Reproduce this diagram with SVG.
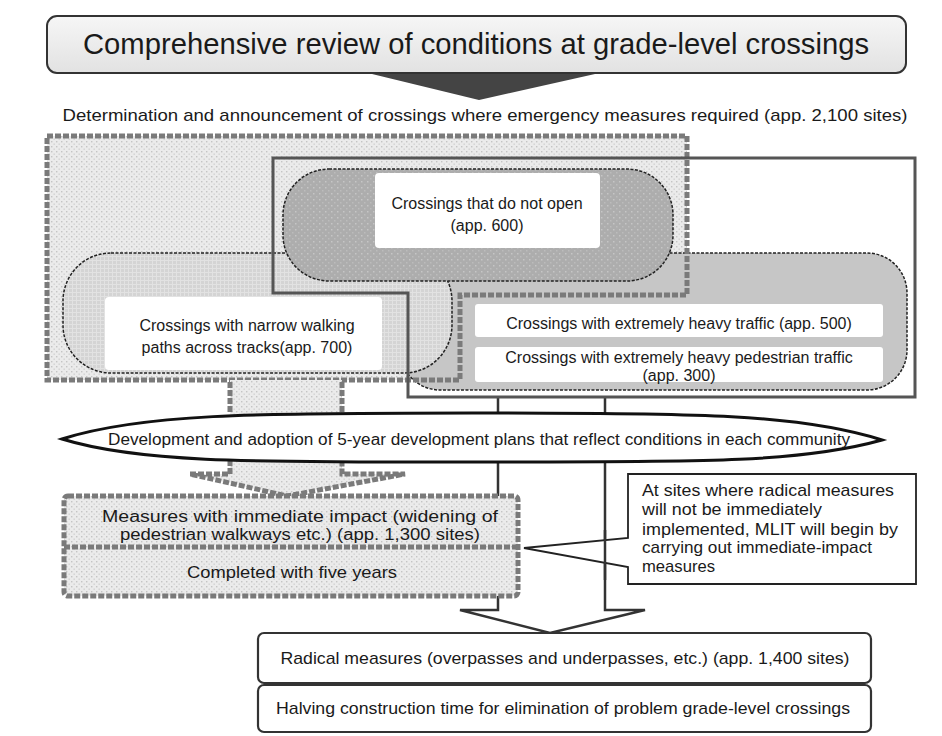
<svg xmlns="http://www.w3.org/2000/svg" width="942" height="736" viewBox="0 0 942 736">
<style>
text{font-family:"Liberation Sans",Arial,sans-serif;fill:#1a1a1a}
.c{text-anchor:middle}
.t16{font-size:16px}
.t17{font-size:17px}
.dash{fill:none;stroke:#7a7a7a;stroke-width:5;stroke-dasharray:6 2}
.pill{stroke:#222;stroke-width:1.5;stroke-dasharray:3 1.5}
.wbox{fill:#fff;stroke:none}
.solid{fill:none;stroke:#555;stroke-width:3}
.ln{fill:none;stroke:#333;stroke-width:2.5}
</style>
<defs>
<pattern id="stip" width="5" height="5" patternUnits="userSpaceOnUse">
<rect width="5" height="5" fill="#ebebeb"/><rect x="1" y="1" width="1.4" height="1.4" fill="#c4c4c4"/><rect x="3.5" y="3.5" width="1.4" height="1.4" fill="#d2d2d2"/>
</pattern>
<pattern id="dark" width="6" height="6" patternUnits="userSpaceOnUse">
<rect width="6" height="6" fill="#adadad"/><rect x="1" y="1" width="1.5" height="1.5" fill="#c6c6c6"/><rect x="4" y="4" width="1.5" height="1.5" fill="#bcbcbc"/>
</pattern>
<pattern id="grid" width="4" height="4" patternUnits="userSpaceOnUse">
<rect width="4" height="4" fill="#d4d4d4"/><rect width="4" height="1" fill="#e2e2e2"/><rect width="1" height="4" fill="#e2e2e2"/>
</pattern>
<linearGradient id="tg" x1="0" y1="0" x2="0" y2="1">
<stop offset="0" stop-color="#f6f6f6"/><stop offset="1" stop-color="#e2e2e2"/>
</linearGradient>
</defs>
<rect width="942" height="736" fill="#fff"/>

<g id="title">
<rect x="47" y="16" width="859" height="57" rx="10" fill="url(#tg)" stroke="#333" stroke-width="2"/>
<text class="c" x="476" y="54" font-size="30" textLength="786" lengthAdjust="spacingAndGlyphs">Comprehensive review of conditions at grade-level crossings</text>
</g>

<g id="connectors">
<polygon points="372,74 595,74 479,100" fill="#444"/>
<path class="ln" d="M498,397 V610 H460 L550,633 L645,610 H605 V397"/>
</g>

<g id="determination">
<text class="c t17" x="485" y="121" textLength="845" lengthAdjust="spacingAndGlyphs">Determination and announcement of crossings where emergency measures required (app. 2,100 sites)</text>
</g>

<g id="emergency-region">
<path d="M47,136 H687 V295 H460 V380 H47 Z" fill="url(#stip)"/>
</g>

<g id="heavy-traffic">
<rect x="400" y="253" width="507" height="137" rx="40" fill="#c6c6c6" class="pill"/>
</g>
<g id="narrow-paths">
<rect x="63" y="253" width="389" height="120" rx="48" fill="url(#grid)" class="pill"/>
</g>
<g id="no-open">
<rect x="283" y="169" width="390" height="112" rx="46" fill="url(#dark)" class="pill"/>
</g>

<g id="region-outlines">
<path class="dash" d="M47,136 H687 V295 H460 V380 H47 Z"/>
<path class="solid" d="M273,158 H915 V397 H408 V293 H273 Z"/>
</g>

<g id="no-open-label">
<rect class="wbox" x="375" y="173" width="225" height="75" rx="4"/>
<text class="c t16" x="487" y="209">Crossings that do not open</text>
<text class="c t16" x="487" y="231">(app. 600)</text>
</g>
<g id="narrow-label">
<rect class="wbox" x="105" y="297" width="277" height="73" rx="4"/>
<text class="c t16" x="247" y="331">Crossings with narrow walking</text>
<text class="c t16" x="247" y="353">paths across tracks(app. 700)</text>
</g>
<g id="heavy-labels">
<rect class="wbox" x="475" y="304" width="408" height="33" rx="3"/>
<text class="c t16" x="679" y="329">Crossings with extremely heavy traffic (app. 500)</text>
<rect class="wbox" x="475" y="347" width="408" height="35" rx="3"/>
<text class="c t16" x="679" y="363">Crossings with extremely heavy pedestrian traffic</text>
<text class="c t16" x="679" y="381">(app. 300)</text>
</g>

<g id="dashed-arrow">
<rect x="230" y="380" width="112" height="36" fill="url(#stip)"/>
<path class="dash" d="M230,382 V414 M342,382 V414"/>
<path d="M230,458 V474 H190 L287,496 L405,474 H342 V458 Z" fill="url(#stip)"/>
<path class="dash" d="M230,460 V474 H190 L287,496 L405,474 H342 V460" stroke-width="4"/>
</g>

<g id="plan">
<path d="M62,439 C140,414 250,413 472,413 C700,413 800,414 882,440 C800,463 700,462 472,462 C250,462 140,463 62,439 Z" fill="#fff" stroke="#111" stroke-width="3"/>
<text class="c t16" x="479" y="445" textLength="742" lengthAdjust="spacingAndGlyphs">Development and adoption of 5-year development plans that reflect conditions in each community</text>
</g>

<g id="immediate">
<rect x="64" y="496" width="454" height="100" rx="4" fill="url(#stip)"/>
<rect class="dash" x="64" y="496" width="454" height="100" rx="4"/>
<line class="dash" x1="64" y1="547" x2="518" y2="547"/>
<text class="c t16" x="300" y="522" textLength="396" lengthAdjust="spacingAndGlyphs">Measures with immediate impact (widening of</text>
<text class="c t16" x="300" y="540" textLength="360" lengthAdjust="spacingAndGlyphs">pedestrian walkways etc.) (app. 1,300 sites)</text>
<text class="c t17" x="292" y="578" textLength="210" lengthAdjust="spacingAndGlyphs">Completed with five years</text>
</g>

<g id="callout">
<path d="M628,474 H916 V584 H628 V567 L524,548 L628,538 Z" fill="#fff" stroke="#222" stroke-width="1.8"/>
<line x1="605" y1="530" x2="605" y2="580" stroke="#333" stroke-width="2.5"/>
<text class="t17" x="642" y="496" textLength="252" lengthAdjust="spacingAndGlyphs">At sites where radical measures</text>
<text class="t17" x="642" y="515" textLength="180" lengthAdjust="spacingAndGlyphs">will not be immediately</text>
<text class="t17" x="642" y="535" textLength="256" lengthAdjust="spacingAndGlyphs">implemented, MLIT will begin by</text>
<text class="t17" x="642" y="553" textLength="230" lengthAdjust="spacingAndGlyphs">carrying out immediate-impact</text>
<text class="t17" x="642" y="572" textLength="73" lengthAdjust="spacingAndGlyphs">measures</text>
</g>

<g id="radical">
<rect x="258" y="633" width="613" height="50" rx="6" fill="#fff" stroke="#333" stroke-width="2.2"/>
<text class="c t17" x="565" y="664" textLength="569" lengthAdjust="spacingAndGlyphs">Radical measures (overpasses and underpasses, etc.) (app. 1,400 sites)</text>
</g>
<g id="halving">
<rect x="258" y="685" width="613" height="47" rx="6" fill="#fff" stroke="#333" stroke-width="2.2"/>
<text class="c t17" x="563" y="714" textLength="574" lengthAdjust="spacingAndGlyphs">Halving construction time for elimination of problem grade-level crossings</text>
</g>
</svg>
